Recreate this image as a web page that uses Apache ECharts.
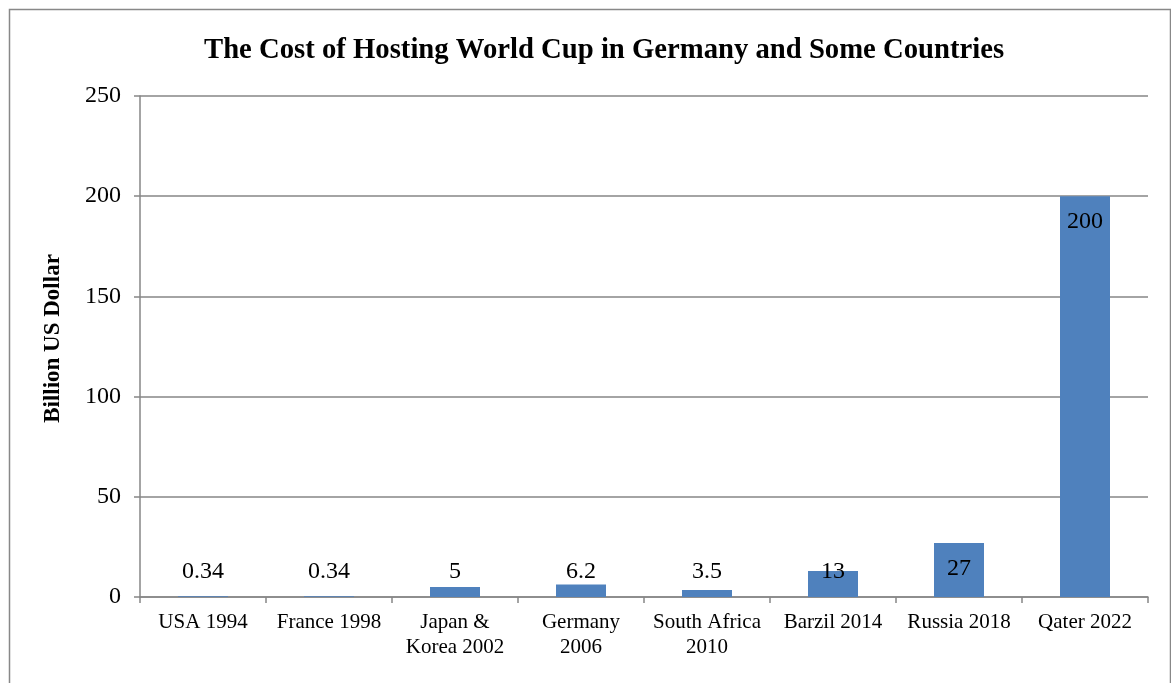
<!DOCTYPE html>
<html>
<head>
<meta charset="utf-8">
<script src="https://cdn.jsdelivr.net/npm/echarts@6/dist/echarts.min.js"></script>
<style>html,body{margin:0;padding:0;background:#fff;}#c{width:1171px;height:683px;}</style>
</head>
<body>
<div id="c"></div>
<script>
const titleText = 'The Cost of Hosting World Cup in Germany and Some Countries';
const yAxisName = 'Billion US Dollar';
const categories = ['USA 1994', 'France 1998', 'Japan &\nKorea 2002', 'Germany\n2006', 'South Africa\n2010', 'Barzil 2014', 'Russia 2018', 'Qater 2022'];
const values = [0.34, 0.34, 5, 6.2, 3.5, 13, 27, 200];
const yMin = 0, yMax = 250, yInterval = 50;

const FONT = "'Times New Roman', 'Liberation Serif', serif";
const plotTop = 96, plotBottom = 597;
const plotH = plotBottom - plotTop;

const data = values.map(v => {
  const hPx = (v - yMin) / (yMax - yMin) * plotH;
  if (hPx > 52) {
    return { value: v, label: { position: 'insideTop', distance: 14 } };
  }
  return { value: v, label: { position: 'insideBottom', distance: 13 } };
});

const chart = echarts.init(document.getElementById('c'), null, { renderer: 'canvas' });
chart.setOption({
  backgroundColor: '#fff',
  animation: false,
  graphic: [{
    type: 'rect', left: 7, top: 7, shape: { width: 1161, height: 700 },
    style: { fill: 'none', stroke: '#888', lineWidth: 1.5 }, silent: true
  }],
  title: {
    text: titleText, left: 199, top: 31,
    textStyle: { fontFamily: FONT, fontWeight: 'bold', fontSize: 28.7, color: '#000' }
  },
  grid: { left: 140, right: 23, top: plotTop, bottom: 683 - plotBottom, containLabel: false },
  xAxis: {
    type: 'category', data: categories,
    axisLine: { lineStyle: { color: '#868686', width: 1.5 } },
    axisTick: { show: true, alignWithLabel: false, length: 6, lineStyle: { color: '#868686', width: 1.5 } },
    axisLabel: { fontFamily: FONT, fontSize: 21, color: '#000', margin: 13, lineHeight: 25, interval: 0 }
  },
  yAxis: {
    type: 'value', min: yMin, max: yMax, interval: yInterval,
    name: yAxisName, nameLocation: 'middle', nameGap: 75, nameRotate: 90,
    nameTextStyle: { fontFamily: FONT, fontWeight: 'bold', fontSize: 23, color: '#000', padding: [0, 0, 0, 16] },
    axisLine: { show: true, lineStyle: { color: '#868686', width: 1.5 } },
    axisTick: { show: true, inside: false, length: 6, lineStyle: { color: '#868686', width: 1.5 } },
    axisLabel: { fontFamily: FONT, fontSize: 24, color: '#000', margin: 19 },
    splitLine: { show: true, lineStyle: { color: '#868686', width: 1.5 } }
  },
  series: [{
    type: 'bar', data: data, barWidth: 50,
    itemStyle: { color: '#4F81BD' },
    label: { show: true, fontFamily: FONT, fontSize: 24, color: '#000' }
  }]
});
</script>
</body>
</html>
